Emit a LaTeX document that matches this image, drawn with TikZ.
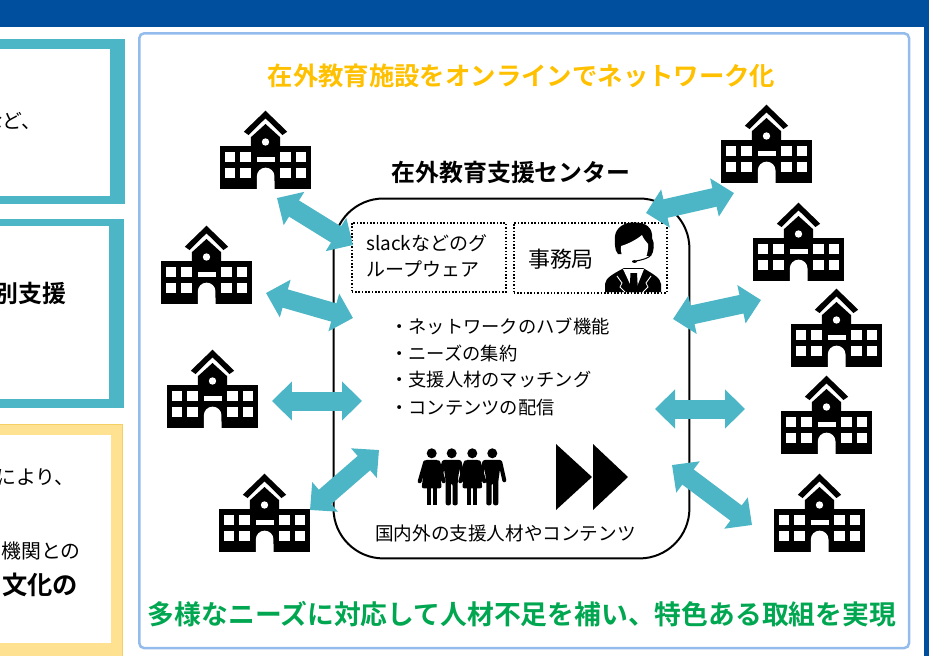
\documentclass[tikz,border=0pt]{standalone}
\usepackage{fontspec}
\setmainfont{Noto Sans CJK JP}[BoldFont={Noto Sans CJK JP Bold}]
\usetikzlibrary{arrows.meta}
\definecolor{bandblue}{HTML}{004F9F}
\definecolor{panelblue}{HTML}{93BCEC}
\definecolor{linkteal}{HTML}{4DB6C6}
\definecolor{paleyellow}{HTML}{FFE291}
\definecolor{linegold}{HTML}{F6CF63}
\definecolor{titlegold}{HTML}{FFC000}
\definecolor{slogangreen}{HTML}{00A650}
\tikzset{
	link/.style={draw=linkteal, line width=.38cm, {Triangle[length=.4cm,width=.76cm]}-{Triangle[length=.4cm,width=.76cm]}},
	dotbox/.style={draw, densely dotted, line width=.9pt, rectangle, anchor=north west, inner sep=0pt},
	role/.style={font=\fontsize{10.4}{13}\selectfont, anchor=west, inner sep=0pt},
	edgetext/.style={font=\fontsize{11.3}{13}\selectfont, anchor=east, inner sep=0pt},
	school/.pic={
		\fill (0,-39.3) -- (21.7,-18.3) -- (17,-15) -- (0,-31.7) -- (-17,-15) -- (-21.7,-18.3) -- cycle;
		\fill (0,-26) -- (14.7,-12.7) -- (14.7,-4) -- (-14.7,-4) -- (-14.7,-12.7) -- cycle;
		\fill (-45.7,-4) rectangle (45.7,39.3);
		\fill[white] (0,-8) circle (3.7);
		\foreach \x in {-40.7,-25.3,14.7,30.5}
			\foreach \y in {1.7,17.7}
				\fill[white] (\x,\y) rectangle ++(10.4,10.4);
		\fill[white] (-8.7,7) rectangle (9,12.3);
		\fill[white] (-8.7,39.3) -- (-8.7,26.5) arc[start angle=180, end angle=0, radius=.177cm] -- (9,39.3) -- cycle;
	},
	manfig/.pic={
		\fill (0,0) circle (5);
		\fill[rounded corners=.04cm] (-9,6.5) -- (9,6.5) -- (6,28) -- (6,52) -- (.8,52) -- (.8,30) -- (-.8,30) -- (-.8,52) -- (-6,52) -- (-6,28) -- cycle;
		\draw[line width=.08cm, line cap=round] (-8,9) -- (-12,27);
		\draw[line width=.08cm, line cap=round] (8,9) -- (12,27);
	},
	womanfig/.pic={
		\fill (0,0) circle (5);
		\fill[rounded corners=.04cm] (-7,6.5) -- (7,6.5) -- (10,35) -- (-10,35) -- cycle;
		\fill (-5,34) rectangle (-1,52);
		\fill (1,34) rectangle (5,52);
		\draw[line width=.08cm, line cap=round] (-6.5,9) -- (-12,28);
		\draw[line width=.08cm, line cap=round] (6.5,9) -- (12,28);
	},
}
\begin{document}
\begin{tikzpicture}[x=.02cm, y=-.02cm]
		\useasboundingbox (0,0) rectangle (944,656);
		\fill[bandblue] (0,0) rectangle (929,27);
		\fill[bandblue] (924,27) rectangle (929,656);
		\fill[linkteal] (-5,39) rectangle (125,204);
		\fill[white] (-5,49) rectangle (110,196);
		\fill[linkteal] (-5,219) rectangle (124,408);
		\fill[white] (-5,226) rectangle (109,399);
		\fill[paleyellow, draw=linegold] (-5,424) rectangle (122,660);
		\fill[white] (-5,435) rectangle (111,643);
		\node[edgetext] (leftone) at (42,121) {など、};
		\node[edgetext, font=\fontsize{13.6}{15}\selectfont\bfseries] (lefttwo) at (67,293) {別支援};
		\node[edgetext] (leftthree) at (75,477) {により、};
		\node[edgetext] (leftfour) at (81,551) {機関との};
		\node[edgetext, font=\fontsize{14.4}{16}\selectfont\bfseries] (leftfive) at (78.5,585) {文化の};
		\node[draw=panelblue, line width=.05cm, rounded corners=.1cm, minimum width=15.4cm, minimum height=12.3cm, anchor=north west] (panel) at (138,32) {};
		\node[font=\fontsize{14.45}{17}\selectfont\bfseries, text=titlegold] (title) at (521.5,76) {在外教育施設をオンラインでネットワーク化};
		\node[font=\fontsize{13.6}{16}\selectfont\bfseries] (hubtitle) at (511,172) {在外教育支援センター};
		\node[font=\fontsize{15.25}{18}\selectfont\bfseries, text=slogangreen] (slogan) at (522,614) {多様なニーズに対応して人材不足を補い、特色ある取組を実現};
		\node[draw, line width=.04cm, rectangle, rounded corners=1cm, minimum width=7.12cm, minimum height=7.2cm, anchor=north west] (hub) at (332.5,197.5) {};
		\node[dotbox, minimum width=3.08cm, minimum height=1.38cm] (slackbox) at (351,222) {};
		\node[font=\fontsize{10.8}{14.9}\selectfont, align=left, anchor=west, inner sep=0pt] (slacktext) at (366,256) {slackなどのグ\\ループウェア};
		\node[dotbox, minimum width=3.06cm, minimum height=1.4cm] (officebox) at (513,222) {};
		\node[font=\fontsize{12.5}{15}\selectfont] (office) at (561,259) {事務局};
		\fill (605,292) -- (605,284) .. controls (606,278) and (611,275) .. (624,268) -- (643,268) .. controls (655,275) and (660,278) .. (661,284) -- (661,292) -- cycle;
		\fill[white] (623,269) -- (644,269) -- (638,284) -- (634,292) -- (630,284) -- cycle;
		\fill (630.5,273) -- (637,273) -- (638,292) -- (629.5,292) -- cycle;
		\draw[white, line width=.5pt] (617,276) -- (622,283) -- (620,287) -- (625,292);
		\draw[white, line width=.5pt] (651,276) -- (646,283) -- (648,287) -- (643,292);
		\fill (634,222.5) .. controls (646,222) and (653,228) .. (652,238) .. controls (655,243) and (654,252) .. (651,256) -- (618,254) .. controls (614,250) and (615,242) .. (615,236) .. controls (616,228) and (624,222) .. (634,222.5);
		\fill[white] (621,246) .. controls (628,244) and (636,240) .. (642,235) .. controls (644,240) and (646,241) .. (648,244) .. controls (649,256) and (642,268) .. (634,268) .. controls (627,268) and (620,258) .. (621,246);
		\draw[line width=.6pt] (651,255) .. controls (649,258) and (642,260) .. (636,261);
		\fill (634.5,261.5) ellipse (2.5 and 1.4);
		\path (431.7,453.3) pic {womanfig};
		\path (451.7,453.3) pic {manfig};
		\path (472.3,453.3) pic {womanfig};
		\path (492.3,453.3) pic {manfig};
		\fill (556,444) -- (592,477) -- (556,510) -- cycle;
		\fill (593,444) -- (628,477) -- (593,510) -- cycle;
		\node[role] (roleone) at (390,326) {・ネットワークのハブ機能};
		\node[role] (roletwo) at (390,353) {・ニーズの集約};
		\node[role] (rolethree) at (390,380) {・支援人材のマッチング};
		\node[role] (rolefour) at (390,408) {・コンテンツの配信};
		\node[font=\fontsize{10.6}{12.5}\selectfont] (pool) at (505.5,533) {国内外の支援人材やコンテンツ};
		\path (265.5,150) pic {school};
		\path (206.5,265) pic {school};
		\path (212.5,389) pic {school};
		\path (264.5,513) pic {school};
		\path (766.5,144) pic {school};
		\path (798.5,242) pic {school};
		\path (836.5,328) pic {school};
		\path (826.5,415) pic {school};
		\path (819.5,513) pic {school};
		\coordinate (sa) at (277,198);
		\coordinate (ha) at (353,245);
		\coordinate (sb) at (266,293);
		\coordinate (hb) at (353,318);
		\coordinate (sc) at (272,401);
		\coordinate (hc) at (362,401);
		\coordinate (sd) at (310,510);
		\coordinate (hd) at (379,450);
		\coordinate (se) at (734,193);
		\coordinate (he) at (646,213);
		\coordinate (sf) at (761,300);
		\coordinate (hf) at (673,319);
		\coordinate (sg) at (745,409);
		\coordinate (hg) at (655,409);
		\coordinate (sh) at (752,525);
		\coordinate (hh) at (672,465);
		\draw[link] (sa) -- (ha);
		\draw[link] (sb) -- (hb);
		\draw[link] (sc) -- (hc);
		\draw[link] (sd) -- (hd);
		\draw[link] (se) -- (he);
		\draw[link] (sf) -- (hf);
		\draw[link] (sg) -- (hg);
		\draw[link] (sh) -- (hh);
	\end{tikzpicture}
\end{document}
